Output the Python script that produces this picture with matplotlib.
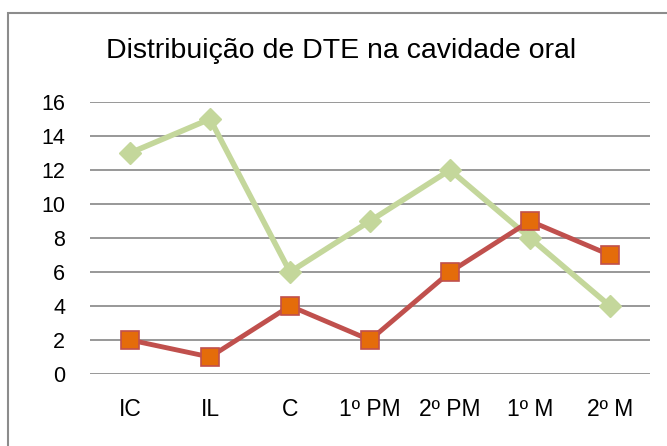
import matplotlib
matplotlib.use("Agg")
import matplotlib.pyplot as plt
from matplotlib.patches import Rectangle

categories = ["IC", "IL", "C", "1º PM", "2º PM", "1º M", "2º M"]
series_green = [13, 15, 6, 9, 12, 8, 4]
series_red = [2, 1, 4, 2, 6, 9, 7]
yticks = [0, 2, 4, 6, 8, 10, 12, 14, 16]
title = "Distribuição de DTE na cavidade oral"

plt.rcParams['font.family'] = ['Liberation Sans', 'DejaVu Sans']

fig = plt.figure(figsize=(6.67, 4.46), dpi=100)
fig.patches.append(Rectangle((8/667, -0.05), 1.1, 1 - 13/446 + 0.05,
                             transform=fig.transFigure, facecolor='white',
                             edgecolor='#8c8c8c', linewidth=1.5, zorder=-5))
ax = fig.add_axes([90/667, 1 - 374/446, 560/667, 272/446])
ax.set_zorder(2)
ax.set_facecolor('none')

x = list(range(len(categories)))
ax.plot(x, series_green, color='#C4D79B', linewidth=4, marker='D',
        markersize=11, markerfacecolor='#C4D79B', markeredgecolor='#C4D79B', zorder=3)
ax.plot(x, series_red, color='#C0504D', linewidth=3.5, marker='s',
        markersize=13, markerfacecolor='#E46C0A', markeredgecolor='#C0504D',
        markeredgewidth=1.2, zorder=4)

ax.set_xlim(-0.5, len(categories) - 0.5)
ax.set_ylim(0, 16)
ax.set_yticks(yticks)
ax.set_xticks(x)
ax.set_xticklabels(categories)
ax.yaxis.grid(True, color='#868686', linewidth=1.2)
ax.set_axisbelow(True)
for s in ax.spines.values():
    s.set_visible(False)
ax.tick_params(axis='both', length=0, colors='black')
ax.tick_params(axis='y', pad=18, labelsize=15.5)
ax.tick_params(axis='x', pad=17, labelsize=16.5)

fig.text(341/667, 1 - 51/446, title, ha='center', va='center', fontsize=20.5)

fig.savefig("out.png", dpi=100)
